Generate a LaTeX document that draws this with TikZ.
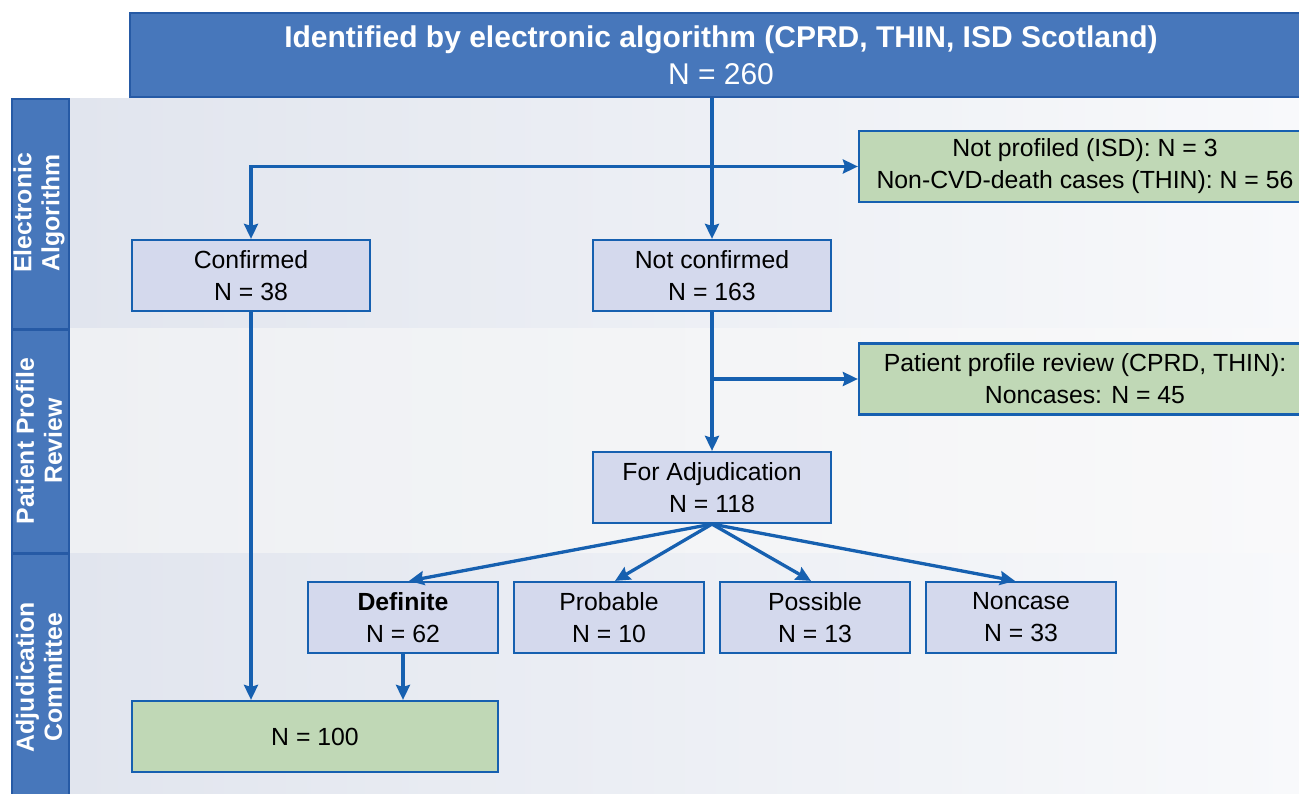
\documentclass[tikz,border=0pt]{standalone}
\usepackage{fontspec}
\setmainfont{Liberation Sans}
\usetikzlibrary{arrows.meta,calc}
\definecolor{hdrblue}{RGB}{71,119,187}
\definecolor{hdrline}{RGB}{38,90,165}
\definecolor{lineblue}{RGB}{22,96,176}
\definecolor{lav}{RGB}{212,217,237}
\definecolor{grn}{RGB}{192,216,182}
\definecolor{bandA}{RGB}{225,229,238}
\definecolor{bandAr}{RGB}{248,249,251}
\definecolor{bandB}{RGB}{238,240,243}
\definecolor{bandBr}{RGB}{249,249,250}
\begin{document}
\begin{tikzpicture}[x=1pt,y=-1pt,
  box/.style={draw=lineblue, line width=2.2pt, fill=lav, minimum width=238pt, minimum height=71pt,
    align=center, inner sep=0pt, font=\fontsize{24.8}{32}\selectfont, text=black},
  smallbox/.style={box, minimum width=190pt},
  greenbox/.style={box, fill=grn},
  titlebox/.style={draw=hdrline, line width=2pt, fill=hdrblue, minimum width=1182pt, minimum height=84pt,
    align=center, inner sep=0pt, text=white, font=\fontsize{30}{37}\selectfont},
  sidelabel/.style={rotate=90, align=center, text=white, font=\fontsize{24.8}{28}\selectfont\bfseries},
  sidebox/.style={draw=hdrline, line width=2pt, fill=hdrblue},
  arr/.style={draw=lineblue, line width=3.3pt, -{Stealth[length=15pt, width=14pt, inset=2pt]}}
]
\useasboundingbox (0,0) rectangle (1299,794);
\clip (0,0) rectangle (1299,794);
\fill[white] (0,0) rectangle (1299,794);

% background bands
\shade[left color=bandA, right color=bandAr] (70,99) rectangle (1299,329);
\shade[left color=bandB, right color=bandBr] (70,329) rectangle (1299,553);
\shade[left color=bandA, right color=bandAr] (70,553) rectangle (1299,800);

% side column
\draw[sidebox] (12,99) rectangle (69,329);
\draw[sidebox] (12,330) rectangle (69,553);
\draw[sidebox] (12,554) rectangle (69,800);
\node[sidelabel] (lab1) at (39,213) {Electronic\\Algorithm};
\node[sidelabel] (lab2) at (39,441) {Patient Profile\\Review};
\node[sidelabel] (lab3) at (39,677) {Adjudication\\Committee};

% title
\node[titlebox] (title) at (721,55.5) {\textbf{Identified by electronic algorithm (CPRD, THIN, ISD Scotland)}\\N = 260};

% boxes
\node[box] (conf) at (251,275.5) {Confirmed\\N = 38};
\node[box] (nc) at (712,275.5) {Not confirmed\\N = 163};
\node[greenbox, minimum width=452pt] (g1) at (1085,166.5) {Not profiled (ISD): N = 3\\Non-CVD-death cases (THIN): N = 56};
\node[greenbox, minimum width=452pt] (g2) at (1085,379) {Patient profile review (CPRD, THIN):\\Noncases: N = 45};
\node[box] (adj) at (712,487.5) {For Adjudication\\N = 118};
\node[smallbox] (def) at (403,617.5) {\textbf{Definite}\\N = 62};
\node[smallbox] (prob) at (609,617.5) {Probable\\N = 10};
\node[smallbox] (poss) at (815,617.5) {Possible\\N = 13};
\node[smallbox] (nonc) at (1021,617.5) {Noncase\\N = 33};
\node[greenbox, minimum width=366pt] (n100) at (315,736.5) {N = 100};

% connectors
\draw[arr] (title.south -| nc.north) -- (nc.north);
\draw[arr] (g1.west -| nc.north) -- (g1.west);
\draw[arr] (g1.west -| nc.north) -| (conf.north);
\draw[arr] (conf.south) -- (conf.south |- n100.north);
\draw[arr] (nc.south) -- (adj.north);
\draw[arr] (g2.west -| nc.south) -- (g2.west);
\draw[arr] (adj.south) -- ($(def.north)+(6,0)$);
\draw[arr] (adj.south) -- ($(prob.north)+(6,0)$);
\draw[arr] (adj.south) -- ($(poss.north)+(-4,0)$);
\draw[arr] (adj.south) -- ($(nonc.north)+(-6,0)$);
\draw[arr] (def.south) -- (def.south |- n100.north);
\end{tikzpicture}
\end{document}
